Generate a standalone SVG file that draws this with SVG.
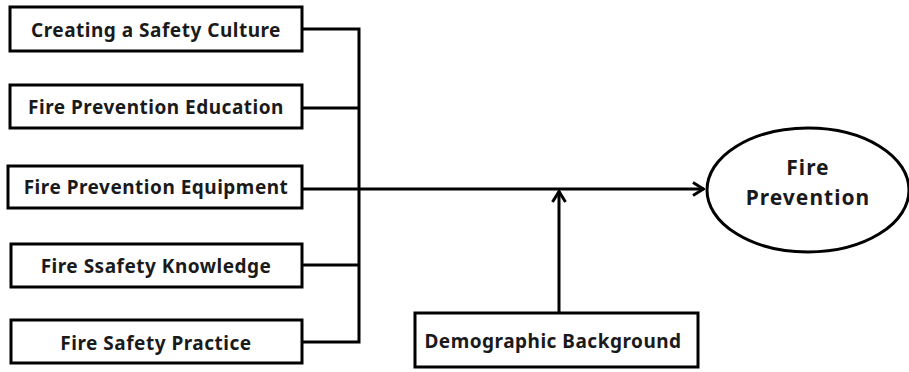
<svg xmlns="http://www.w3.org/2000/svg" width="909" height="372" viewBox="0 0 909 372">
<defs>
<marker id="arr" viewBox="0 0 14 16" refX="13" refY="8" markerWidth="14" markerHeight="16" markerUnits="userSpaceOnUse" orient="auto">
<path d="M2,1.5 L12.5,8 L2,14.5" fill="none" stroke="#000" stroke-width="3"/>
</marker>
<style>
.box{fill:#fff;stroke:#000;stroke-width:3}
.t{font-family:"Noto Sans","Open Sans",sans-serif;font-weight:bold;font-size:19px;letter-spacing:0.5px;fill:#1a1a1a;text-anchor:middle}
.e{font-size:21px;letter-spacing:1px}
.ln{fill:none;stroke:#000;stroke-width:3}
</style>
</defs>
<rect width="909" height="372" fill="#fff"/>
<g id="connectors">
<path class="ln" d="M302,29 H359 V342 H302"/>
<path class="ln" d="M302,108 H359"/>
<path class="ln" d="M302,265 H359"/>
<path class="ln" d="M302,189 H704" marker-end="url(#arr)"/>
<path class="ln" d="M559,313 V191" marker-end="url(#arr)"/>
</g>
<g id="n1"><rect class="box" x="10" y="7" width="292" height="44"/><text class="t" x="156" y="37">Creating a Safety Culture</text></g>
<g id="n2"><rect class="box" x="10" y="85" width="292" height="43"/><text class="t" x="156" y="114">Fire Prevention Education</text></g>
<g id="n3"><rect class="box" x="8" y="166" width="294" height="42"/><text class="t" x="156" y="194">Fire Prevention Equipment</text></g>
<g id="n4"><rect class="box" x="11" y="244" width="291" height="43"/><text class="t" x="156" y="273">Fire Ssafety Knowledge</text></g>
<g id="n5"><rect class="box" x="11" y="320" width="291" height="43"/><text class="t" x="156" y="350">Fire Safety Practice</text></g>
<g id="n6"><rect class="box" x="415" y="313" width="283" height="54"/><text class="t" x="553" y="348">Demographic Background</text></g>
<g id="n7"><ellipse cx="808" cy="190" rx="101" ry="62" fill="#fff" stroke="#000" stroke-width="3"/><text class="t e" x="808" y="175">Fire</text><text class="t e" x="808" y="205">Prevention</text></g>
</svg>
